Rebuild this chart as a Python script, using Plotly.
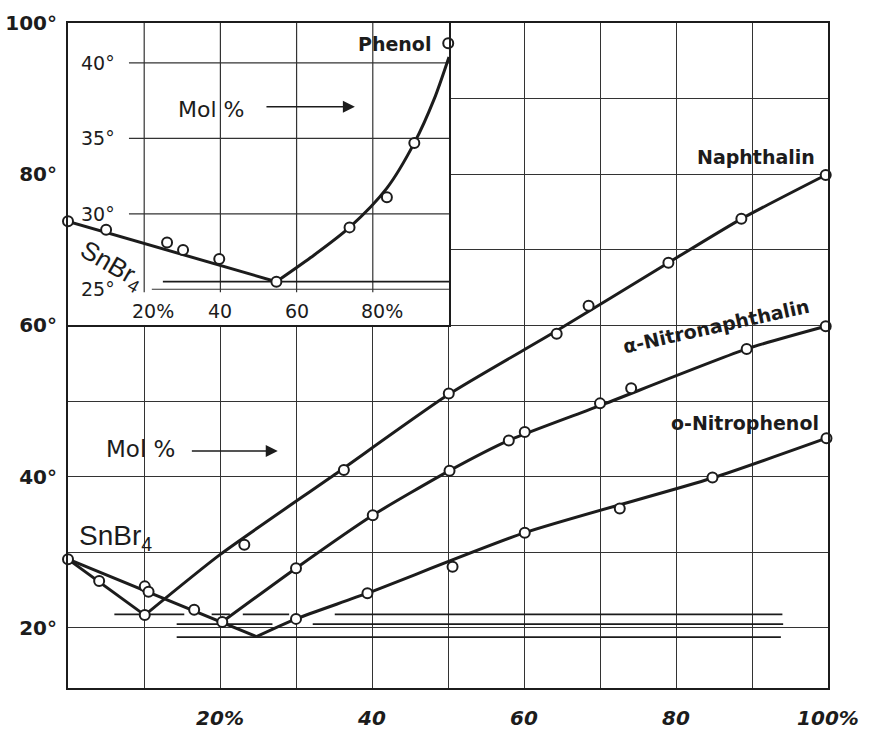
import plotly.graph_objects as go

# ---------------- Main diagram (Mol % of 2nd component, temperature °C) ----------------
snbr4_naph_line_x = [0.0, 10.1]
snbr4_naph_line_y = [29.1, 21.7]
snbr4_naph_pts_x = [0.0, 4.1, 10.1]
snbr4_naph_pts_y = [29.1, 26.2, 21.7]

snbr4_nitro_line_x = [0.0, 24.8]
snbr4_nitro_line_y = [29.1, 18.85]
snbr4_nitro_pts_x = [10.1, 10.6, 16.6, 20.3]
snbr4_nitro_pts_y = [25.5, 24.8, 22.4, 20.8]

naph_line_x = [10.1, 20.0, 35.1, 50.1, 64.3, 79.0, 88.6, 99.7]
naph_line_y = [21.7, 29.7, 40.3, 50.9, 59.3, 68.3, 74.1, 79.9]
naph_pts_x = [23.2, 36.3, 50.1, 64.3, 68.5, 79.0, 88.6, 99.7]
naph_pts_y = [31.0, 40.9, 51.0, 58.9, 62.6, 68.3, 74.1, 79.9]

alpha_line_x = [20.3, 30.0, 40.1, 50.2, 58.0, 70.0, 89.3, 99.7]
alpha_line_y = [20.8, 27.9, 34.9, 40.8, 44.8, 49.4, 56.9, 59.9]
alpha_pts_x = [30.0, 40.1, 50.2, 58.0, 60.1, 70.0, 74.1, 89.3, 99.7]
alpha_pts_y = [27.9, 34.9, 40.8, 44.8, 45.9, 49.7, 51.7, 56.9, 59.9]

onitro_line_x = [24.8, 30.0, 39.4, 60.1, 84.7, 99.8]
onitro_line_y = [18.85, 21.2, 24.6, 32.6, 39.8, 45.1]
onitro_pts_x = [30.0, 39.4, 50.6, 60.1, 72.6, 84.8, 99.8]
onitro_pts_y = [21.2, 24.6, 28.1, 32.6, 35.8, 39.9, 45.1]

# eutectic horizontals: temperature and (start, end) segments
naph_eut_t = 21.8
naph_eut_segs = [(6.1, 15.3), (18.9, 21.3), (23.0, 29.1), (35.1, 94.0)]
alpha_eut_t = 20.5
alpha_eut_segs = [(14.3, 26.9), (32.2, 94.1)]
onitro_eut_t = 18.8
onitro_eut_segs = [(14.3, 93.8)]

main_xticks = [20, 40, 60, 80, 100]
main_xtick_text = ["20%", "40", "60", "80", "100%"]
main_ygrid = [20, 30, 40, 50, 60, 70, 80, 90, 100]
main_ytick_text = ["20°", "", "40°", "", "60°", "", "80°", "", "100°"]

# ---------------- Inset: SnBr4 – Phenol ----------------
inset_line_x = [0.0, 54.7]
inset_line_y = [29.5, 25.5]
inset_curve_x = [54.7, 63.7, 73.9, 83.7, 90.9, 96.1, 100.0]
inset_curve_y = [25.5, 27.1, 29.1, 31.7, 34.7, 37.6, 40.4]
inset_pts_x = [0.0, 10.0, 26.0, 30.2, 39.7, 54.7, 73.9, 83.7, 90.9, 99.8]
inset_pts_y = [29.5, 28.95, 28.1, 27.6, 27.0, 25.5, 29.1, 31.1, 34.7, 41.3]
inset_eut_t = 25.5
inset_eut_seg = (24.9, 100.0)

inset_yticks = [25, 30, 35, 40]
inset_ytick_text = ["25°", "30°", "35°", "40°"]
inset_xticks = [20, 40, 60, 80]
inset_xtick_text = ["20%", "40", "60", "80%"]

INK = "#1c1c1c"
FONT = "DejaVu Sans"

fig = go.Figure()


def seg_xy(segs, t):
    xs, ys = [], []
    for a, b in segs:
        xs += [a, b, None]
        ys += [t, t, None]
    return xs, ys


# main eutectic lines
for segs, t in [(naph_eut_segs, naph_eut_t), (alpha_eut_segs, alpha_eut_t), (onitro_eut_segs, onitro_eut_t)]:
    xs, ys = seg_xy(segs, t)
    fig.add_trace(go.Scatter(x=xs, y=ys, mode="lines", line=dict(color=INK, width=1.7),
                             hoverinfo="skip", showlegend=False))

# main curves
for lx, ly, shape in [(snbr4_naph_line_x, snbr4_naph_line_y, "linear"),
                      (snbr4_nitro_line_x, snbr4_nitro_line_y, "linear"),
                      (naph_line_x, naph_line_y, "spline"),
                      (alpha_line_x, alpha_line_y, "spline"),
                      (onitro_line_x, onitro_line_y, "spline")]:
    fig.add_trace(go.Scatter(x=lx, y=ly, mode="lines",
                             line=dict(color=INK, width=3, shape=shape, smoothing=0.6),
                             hoverinfo="skip", showlegend=False))

marker_style = dict(symbol="circle", size=10, color="white", line=dict(color=INK, width=2))
for px, py in [(snbr4_naph_pts_x, snbr4_naph_pts_y), (snbr4_nitro_pts_x, snbr4_nitro_pts_y),
               (naph_pts_x, naph_pts_y), (alpha_pts_x, alpha_pts_y), (onitro_pts_x, onitro_pts_y)]:
    fig.add_trace(go.Scatter(x=px, y=py, mode="markers", marker=marker_style, cliponaxis=False,
                             showlegend=False))

# inset traces
xs, ys = seg_xy([inset_eut_seg], inset_eut_t)
fig.add_trace(go.Scatter(x=xs, y=ys, mode="lines", line=dict(color=INK, width=1.7),
                         xaxis="x2", yaxis="y2", hoverinfo="skip", showlegend=False))
fig.add_trace(go.Scatter(x=inset_line_x, y=inset_line_y, mode="lines", line=dict(color=INK, width=3),
                         xaxis="x2", yaxis="y2", hoverinfo="skip", showlegend=False))
fig.add_trace(go.Scatter(x=inset_curve_x, y=inset_curve_y, mode="lines",
                         line=dict(color=INK, width=3, shape="spline", smoothing=0.8),
                         xaxis="x2", yaxis="y2", hoverinfo="skip", showlegend=False))
fig.add_trace(go.Scatter(x=inset_pts_x, y=inset_pts_y, mode="markers", marker=marker_style,
                         cliponaxis=False, xaxis="x2", yaxis="y2", showlegend=False))

# inset grid as shapes (lines stop short of the inside labels)
shapes = []
for t in inset_yticks:
    x0 = 22 if t == 25 else 16
    shapes.append(dict(type="line", xref="x2", yref="y2", x0=x0, x1=100, y0=t, y1=t,
                       line=dict(color="#333", width=1.2), layer="below"))
for t in inset_xticks:
    shapes.append(dict(type="line", xref="x2", yref="y2", x0=t, x1=t, y0=24.8, y1=42.65,
                       line=dict(color="#333", width=1.2), layer="below"))

ann = []
# inset tick labels
for t, s in zip(inset_yticks, inset_ytick_text):
    ann.append(dict(x=7.8, y=t, xref="x2", yref="y2", text=s, showarrow=False,
                    font=dict(family=FONT, size=19, color=INK)))
for t, s in zip(inset_xticks, inset_xtick_text):
    if s.endswith("%"):
        ann.append(dict(x=t, y=23.55, xref="x2", yref="y2", text=s, showarrow=False, xanchor="left",
                        xshift=-14, font=dict(family=FONT, size=19, color=INK)))
    else:
        ann.append(dict(x=t, y=23.55, xref="x2", yref="y2", text=s, showarrow=False,
                        font=dict(family=FONT, size=19, color=INK)))

# labels
ann += [
    dict(x=95.8, y=41.25, xref="x2", yref="y2", text="Phenol", showarrow=False, xanchor="right",
         font=dict(family=FONT, size=19, color=INK, weight="bold")),
    dict(x=37.5, y=36.9, xref="x2", yref="y2", text="Mol %", showarrow=False,
         font=dict(family=FONT, size=22, color=INK)),
    dict(x=75.3, y=37.1, xref="x2", yref="y2", ax=51.7, ay=37.1, axref="x2", ayref="y2",
         text="", showarrow=True, arrowhead=2, arrowsize=1.6, arrowwidth=1.5, arrowcolor=INK),
    dict(x=11.5, y=26.6, xref="x2", yref="y2", text="SnBr<sub>4</sub>", showarrow=False, textangle=30,
         font=dict(family="Liberation Sans", size=26, color=INK)),
    dict(x=98.6, y=82.3, xref="x", yref="y", text="Naphthalin", showarrow=False, xanchor="right",
         font=dict(family=FONT, size=19, color=INK, weight="bold")),
    dict(x=85.3, y=59.9, xref="x", yref="y", text="α-Nitronaphthalin", showarrow=False, textangle=-12.5,
         font=dict(family=FONT, size=19, color=INK, weight="bold")),
    dict(x=99.1, y=47.1, xref="x", yref="y", text="o-Nitrophenol", showarrow=False, xanchor="right",
         font=dict(family=FONT, size=19, color=INK, weight="bold")),
    dict(x=9.6, y=43.7, xref="x", yref="y", text="Mol %", showarrow=False,
         font=dict(family=FONT, size=23, color=INK)),
    dict(x=27.6, y=43.4, xref="x", yref="y", ax=16.1, ay=43.4, axref="x", ayref="y",
         text="", showarrow=True, arrowhead=2, arrowsize=1.6, arrowwidth=1.5, arrowcolor=INK),
    dict(x=6.3, y=31.9, xref="x", yref="y", text="SnBr<sub>4</sub>", showarrow=False,
         font=dict(family="Liberation Sans", size=28, color=INK)),
]

fig.update_layout(
    width=869, height=734,
    margin=dict(l=68, r=41, t=23, b=46),
    paper_bgcolor="white", plot_bgcolor="white",
    showlegend=False,
    shapes=shapes, annotations=ann,
    xaxis=dict(domain=[0, 1], range=[0, 100], tickvals=main_xticks, ticktext=main_xtick_text,
               showgrid=True, gridcolor="#333", gridwidth=1.2, zeroline=False,
               showline=True, linecolor=INK, linewidth=2, mirror=True, automargin=False,
               ticks="", ticklabelstandoff=11,
               tickfont=dict(family=FONT, size=20, color=INK, weight="bold", style="italic"),
               minor=dict(dtick=10, tick0=0, showgrid=True, gridcolor="#333", gridwidth=1.2)),
    yaxis=dict(domain=[0, 1], range=[12.06, 100], tickvals=main_ygrid, ticktext=main_ytick_text,
               showgrid=True, gridcolor="#333", gridwidth=1.2, zeroline=False, automargin=False,
               showline=True, linecolor=INK, linewidth=2, mirror=True, ticks="", ticklabelstandoff=5,
               tickfont=dict(family=FONT, size=20, color=INK, weight="bold")),
    xaxis2=dict(domain=[0, 0.5013], range=[0, 100], anchor="y2", showgrid=False, zeroline=False,
                automargin=False,
                showticklabels=False, ticks="", showline=True, linecolor=INK, linewidth=2, mirror=True),
    yaxis2=dict(domain=[0.5459, 1], range=[22.63, 42.65], anchor="x2", showgrid=False, zeroline=False,
                automargin=False,
                showticklabels=False, ticks="", showline=True, linecolor=INK, linewidth=2, mirror=True),
)

fig.write_html("out.html")
